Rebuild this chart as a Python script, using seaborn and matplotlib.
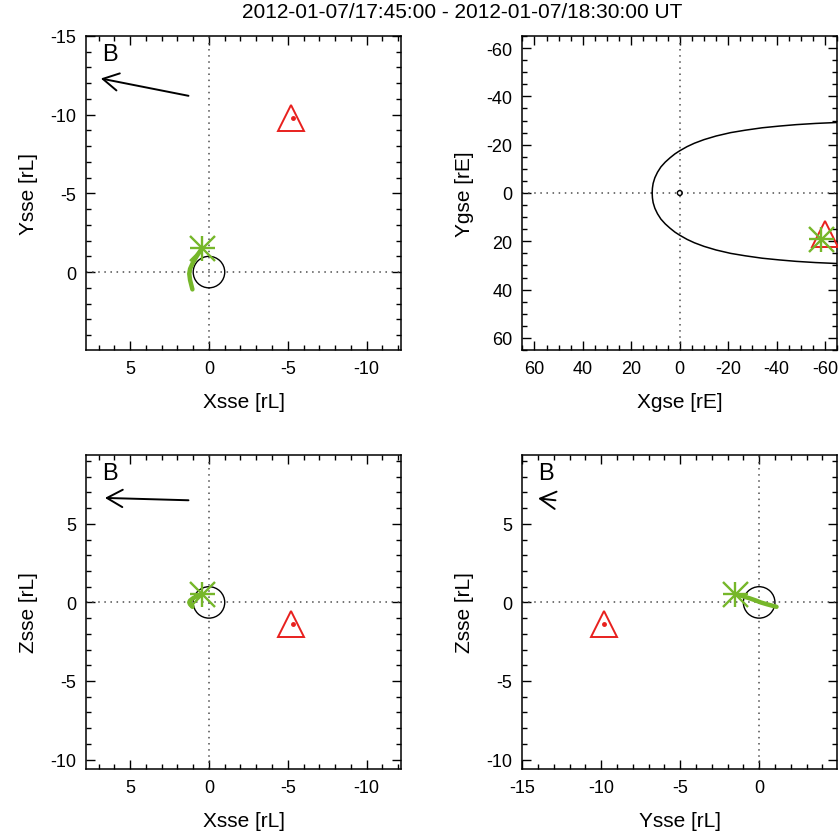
import matplotlib
matplotlib.use("Agg")
import matplotlib.pyplot as plt
from matplotlib.ticker import MultipleLocator
from matplotlib.patches import Circle
import seaborn as sns

# ---------------- data ----------------
title = "2012-01-07/17:45:00 - 2012-01-07/18:30:00 UT"

# spacecraft trajectory in SSE [rL]
traj_x = [0.42, 0.75, 1.02, 1.20, 1.25, 1.20, 1.05]
traj_y = [-1.55, -1.05, -0.60, -0.20, 0.10, 0.50, 1.10]
traj_z = [0.53, 0.40, 0.26, 0.12, 0.00, -0.12, -0.28]
star_sse = (0.42, -1.55, 0.53)

# red triangle (target) in SSE [rL]
tri_sse = (-5.2, -9.8, -1.36)
dot_sse = (-5.3, -9.8, -1.35)

# GSE positions [rE]
star_gse = (-58.3, 19.0)
tri_gse = (-59.8, 17.0)

# bow shock / magnetopause curve in GSE (upper and lower branch)
bs_x = [-65.0, -56.0, -48.0, -41.0, -34.0, -27.0, -21.0, -15.0, -10.0, -6.0,
        -3.0, 0.0, 2.0, 4.0, 6.0, 7.8, 9.2, 10.3, 11.0, 11.3, 11.4]
bs_y_lower = [29.2, 28.8, 28.3, 27.7, 27.0, 26.0, 25.0, 23.6, 22.1, 20.6,
              19.2, 17.5, 16.2, 14.6, 12.8, 10.8, 8.6, 6.3, 4.0, 2.0, 0.0]
bs_y_upper = [-29.2, -28.8, -28.3, -27.7, -27.0, -26.0, -25.0, -23.6, -22.1, -20.6,
              -19.2, -17.5, -16.2, -14.6, -12.8, -10.8, -8.6, -6.3, -4.0, -2.0, 0.0]

# magnetic field arrows: (tail, tip) per panel
b_xy = ((1.3, -11.2), (6.86, -12.3))
b_xz = ((1.3, 6.5), (6.6, 6.65))
b_yz = ((-12.9, 6.5), (-14.0, 6.62))

# axis ranges
xsse_lim = (7.8, -12.2)
ysse_lim_v = (4.95, -15.0)
zsse_lim = (-10.6, 9.4)
ysse_lim_h = (-15.0, 4.95)
gse_lim = (65.0, -65.0)

GREEN = "#76b72a"
RED = "#e8201e"

# ---------------- style ----------------
sns.set_theme(style="ticks")
plt.rcParams["font.family"] = ["Liberation Sans", "DejaVu Sans"]
plt.rcParams["axes.unicode_minus"] = False
for k in ["text.color", "axes.labelcolor", "xtick.color", "ytick.color", "axes.edgecolor"]:
    plt.rcParams[k] = "black"

fig = plt.figure(figsize=(8.4, 8.37), dpi=100)
W, H = 840.0, 837.0


def make_ax(left, top, right, bottom):
    return fig.add_axes([left / W, 1 - bottom / H, (right - left) / W, (bottom - top) / H])


ax_tl = make_ax(86, 37, 401.3, 351)
ax_tr = make_ax(522.3, 37, 837.3, 351)
ax_bl = make_ax(86, 455.7, 401.3, 770)
ax_br = make_ax(522.3, 455.7, 837.3, 770)


def style(ax, major, minor):
    ax.xaxis.set_major_locator(MultipleLocator(major))
    ax.yaxis.set_major_locator(MultipleLocator(major))
    ax.xaxis.set_minor_locator(MultipleLocator(minor))
    ax.yaxis.set_minor_locator(MultipleLocator(minor))
    ax.tick_params(which="both", direction="in", top=True, right=True,
                   width=1, color="black", labelcolor="black")
    ax.tick_params(which="major", length=6.5, labelsize=13, pad=7)
    ax.tick_params(which="minor", length=3.5)
    for s in ax.spines.values():
        s.set_linewidth(1.1)
        s.set_color("black")
    ax.axvline(0, color="0.3", lw=1.1, ls=(0, (1, 3)), zorder=1)
    ax.axhline(0, color="0.3", lw=1.1, ls=(0, (1, 3)), zorder=1)


def star(ax, x, y):
    ax.plot([x], [y], marker="+", ms=18, mew=1.7, color=GREEN, ls="none", zorder=5)
    ax.plot([x], [y], marker="x", ms=18, mew=1.7, color=GREEN, ls="none", zorder=5)


def triangle(ax, x, y, dot=None):
    ax.plot([x], [y], marker="^", ms=18.5, mew=1.4, mfc="none", mec=RED, ls="none", zorder=4)
    if dot is not None:
        ax.plot([dot[0]], [dot[1]], marker="o", ms=2.5, color=RED, ls="none", zorder=4)


def arrow(ax, tail, tip):
    ax.annotate("", xy=tip, xytext=tail,
                arrowprops=dict(arrowstyle="->,head_length=0.45,head_width=0.25",
                                lw=1.4, color="black", mutation_scale=25,
                                shrinkA=0, shrinkB=0))


def btext(ax):
    ax.text(0.075, 0.943, "B", transform=ax.transAxes, fontsize=17,
            ha="center", va="center", color="black")


def label(ax, xl, yl):
    ax.set_xlabel(xl, fontsize=15, labelpad=11)
    ax.set_ylabel(yl, fontsize=15, labelpad=9)


# ---- top-left: X-Y SSE ----
ax = ax_tl
style(ax, 5, 1)
ax.add_patch(Circle((0, 0), 1.0, fill=False, lw=1.0, color="black", zorder=3))
sns.lineplot(x=traj_x, y=traj_y, sort=False, estimator=None, color=GREEN,
             lw=3.2, ax=ax, zorder=5)
star(ax, star_sse[0], star_sse[1])
triangle(ax, tri_sse[0], tri_sse[1], (dot_sse[0], dot_sse[1]))
arrow(ax, *b_xy)
btext(ax)
ax.set_xlim(*xsse_lim)
ax.set_ylim(*ysse_lim_v)
label(ax, "Xsse [rL]", "Ysse [rL]")

# ---- top-right: X-Y GSE ----
ax = ax_tr
style(ax, 20, 5)
ax.add_patch(Circle((0, 0), 1.0, fill=False, lw=1.0, color="black", zorder=3))
sns.lineplot(x=bs_x, y=bs_y_upper, sort=False, estimator=None, color="black",
             lw=1.1, ax=ax)
sns.lineplot(x=bs_x, y=bs_y_lower, sort=False, estimator=None, color="black",
             lw=1.1, ax=ax)
triangle(ax, tri_gse[0], tri_gse[1])
star(ax, star_gse[0], star_gse[1])
ax.set_xlim(*gse_lim)
ax.set_ylim(*gse_lim)
label(ax, "Xgse [rE]", "Ygse [rE]")

# ---- bottom-left: X-Z SSE ----
ax = ax_bl
style(ax, 5, 1)
ax.add_patch(Circle((0, 0), 1.0, fill=False, lw=1.0, color="black", zorder=3))
sns.lineplot(x=traj_x, y=traj_z, sort=False, estimator=None, color=GREEN,
             lw=3.2, ax=ax, zorder=5)
star(ax, star_sse[0], star_sse[2])
triangle(ax, tri_sse[0], tri_sse[2], (dot_sse[0], dot_sse[2]))
arrow(ax, *b_xz)
btext(ax)
ax.set_xlim(*xsse_lim)
ax.set_ylim(*zsse_lim)
label(ax, "Xsse [rL]", "Zsse [rL]")

# ---- bottom-right: Y-Z SSE ----
ax = ax_br
style(ax, 5, 1)
ax.add_patch(Circle((0, 0), 1.0, fill=False, lw=1.0, color="black", zorder=3))
sns.lineplot(x=traj_y, y=traj_z, sort=False, estimator=None, color=GREEN,
             lw=3.2, ax=ax, zorder=5)
star(ax, star_sse[1], star_sse[2])
triangle(ax, tri_sse[1], tri_sse[2], (dot_sse[1], dot_sse[2]))
arrow(ax, *b_yz)
btext(ax)
ax.set_xlim(*ysse_lim_h)
ax.set_ylim(*zsse_lim)
label(ax, "Ysse [rL]", "Zsse [rL]")

fig.text(0.55, 0.9845, title, ha="center", va="center", fontsize=15, color="black")

fig.savefig("out.png", dpi=100)
